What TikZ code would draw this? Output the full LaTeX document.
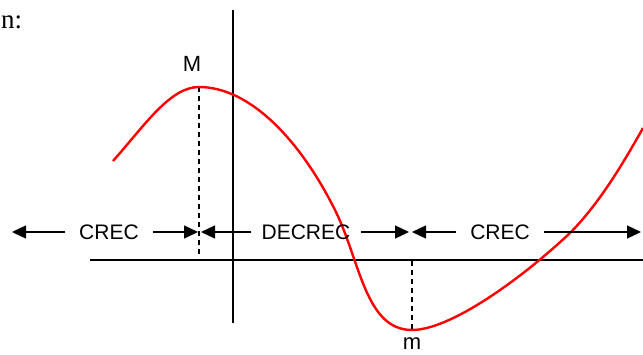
\documentclass[tikz,border=0pt]{standalone}
\usepackage{fontspec}
\setmainfont{Liberation Sans}
\newfontfamily\serifnote{Liberation Serif}
\usetikzlibrary{arrows.meta,positioning}

\begin{document}
\begin{tikzpicture}[x=1pt,y=-1pt,>={Triangle[length=14pt,width=13pt]}]
  \tikzstyle{axisline}=[line width=1.4pt]
  \tikzstyle{curve}=[red,line width=2.4pt,line join=round]
  \tikzstyle{guide}=[dashed,line width=1.2pt,dash pattern=on 5pt off 4pt]
  \tikzstyle{arr}=[->,line width=1.4pt]
  \tikzstyle{lab}=[font=\fontsize{21}{24}\selectfont,inner ysep=2pt,inner xsep=14pt]
  \tikzstyle{pointlab}=[font=\fontsize{22}{26}\selectfont,inner sep=0pt]
  \useasboundingbox (0,0) rectangle (643,354);
  % axes
  \coordinate (ytop) at (233,10);
  \coordinate (ybot) at (233,323);
  \coordinate (xl) at (90,260);
  \coordinate (xr) at (643,260);
  \draw[axisline] (ytop) -- (ybot);
  \draw[axisline] (xl) -- (xr);
  % extrema
  \coordinate (max) at (199,87);
  \coordinate (maxfoot) at (199,256);
  \coordinate (min) at (412,330);
  \coordinate (minfoot) at (412,261);
  \draw[guide] (max) -- (maxfoot);
  \draw[guide] (minfoot) -- (min);
  \node[pointlab] (mlab) at (192,64) {M};
  \node[pointlab] (mlow) at (412,344) {m};
  \node[font=\serifnote\fontsize{27}{30}\selectfont,anchor=base west,inner sep=0pt] (note) at (1,28) {n:};
  % curve
  \draw[curve] (113,161) .. controls (145,125) and (170,87) .. (max)
    .. controls (250,87) and (300,140) .. (335,210)
    .. controls (360,260) and (365,330) .. (min)
    .. controls (450,330) and (520,280) .. (570,233)
    .. controls (600,203) and (625,160) .. (643,128);
  % intervals
  \coordinate (farl) at (12,232);
  \coordinate (maxl) at (198,232);
  \coordinate (maxr) at (201,232);
  \coordinate (minl) at (409,232);
  \coordinate (minr) at (412,232);
  \coordinate (farr) at (641,232);
  \node[lab] (crecl) at (109,232) {CREC};
  \node[lab,inner xsep=10pt] (decrec) at (306,232) {DECREC};
  \node[lab] (crecr) at (500,232) {CREC};
  \foreach \a/\b in {crecl/farl,crecl/maxl,decrec/maxr,decrec/minl,crecr/minr,crecr/farr}
    \draw[arr] (\a) -- (\b);
\end{tikzpicture}
\end{document}
